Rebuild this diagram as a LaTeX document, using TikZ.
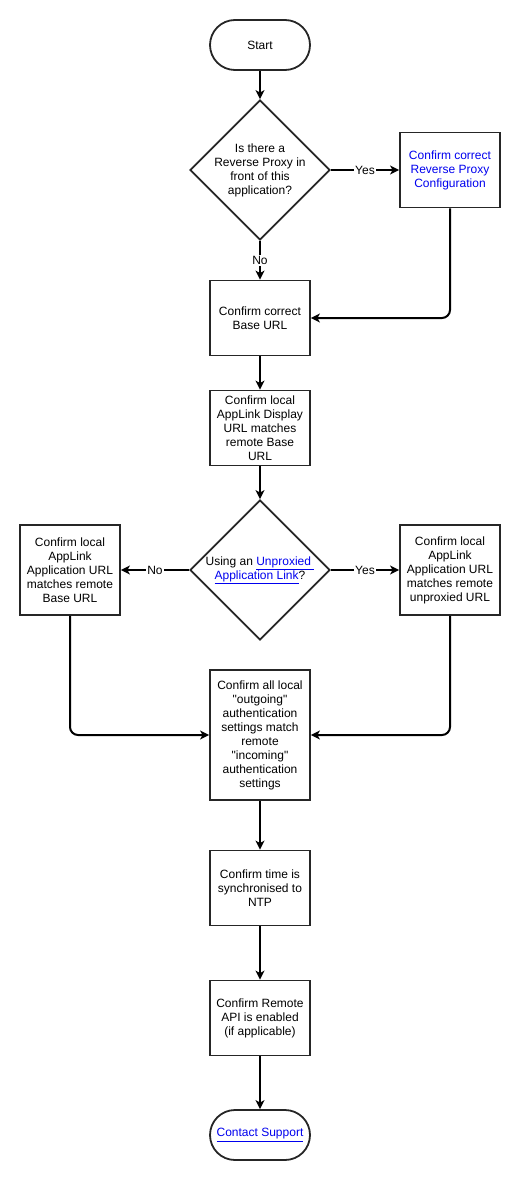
\documentclass[tikz,border=0pt]{standalone}
\usepackage{fontspec}
\setmainfont{Liberation Sans}
\usetikzlibrary{arrows.meta, shapes.geometric}
\definecolor{linkblue}{RGB}{0,0,238}

\begin{document}
\begin{tikzpicture}[x=1pt, y=-1pt]
\tikzstyle{vertex} = [rectangle, draw = black!85, line width=1.8pt, minimum width=100pt, minimum height=75pt, align=center, inner sep=0pt, font=\fontsize{12}{14}\selectfont]
\tikzstyle{terminal} = [vertex, rounded corners=25pt, minimum height=50pt]
\tikzstyle{decision} = [diamond, draw = black!85, line width=1.8pt, minimum width=140pt, minimum height=140pt, inner sep=0pt]
\tikzstyle{edge} = [-{Stealth[length=9pt, width=9pt, inset=2.5pt]}, line width=2pt]
\tikzstyle{mergeedge} = [edge, rounded corners=8pt]
\tikzstyle{answer} = [fill=white, inner sep=1.5pt, font=\fontsize{12}{14}\selectfont]
\useasboundingbox (0,0) rectangle (520,1180);
% -----------------------------------
% Proxy check
\node[terminal] (start) at (260, 45) {Start};
\node[decision, label={[align=center, font=\fontsize{12}{14}\selectfont]center:Is there a\\Reverse Proxy in\\front of this\\application?}] (proxyq) at (260, 170) {};
\node[vertex, text=linkblue] (proxybox) at (450, 170) {Confirm correct\\Reverse Proxy\\Configuration};
\node[vertex] (baseurl) at (260, 318) {Confirm correct\\Base URL};
\node[vertex] (display) at (260, 428) {Confirm local\\AppLink Display\\URL matches\\remote Base\\URL};

\draw[edge] (start)--(proxyq);
\draw[edge] (proxyq)-- node[answer] {Yes} (proxybox);
\draw[edge] (proxyq)-- node[answer] {No} (baseurl);
\draw[mergeedge] (proxybox) |- (baseurl);
\draw[edge] (baseurl)--(display);

% -----------------------------------
% Unproxied link check
\node[decision, label={[align=center, font=\fontsize{12}{14}\selectfont]center:Using an \textcolor{linkblue}{\underline{Unproxied\ }}\\\textcolor{linkblue}{\underline{Application Link}}?}] (linkq) at (260, 570) {};
\node[vertex, minimum height=90pt] (localbase) at (70, 570) {Confirm local\\AppLink\\Application URL\\matches remote\\Base URL};
\node[vertex, minimum height=90pt] (localunprox) at (450, 570) {Confirm local\\AppLink\\Application URL\\matches remote\\unproxied URL};

\draw[edge] (display)--(linkq);
\draw[edge] (linkq)-- node[answer] {No} (localbase);
\draw[edge] (linkq)-- node[answer] {Yes} (localunprox);

% -----------------------------------
% Remaining checks
\node[vertex, minimum height=130pt] (auth) at (260, 735) {Confirm all local\\\textquotedbl outgoing\textquotedbl\\authentication\\settings match\\remote\\\textquotedbl incoming\textquotedbl\\authentication\\settings};
\node[vertex] (ntp) at (260, 888) {Confirm time is\\synchronised to\\NTP};
\node[vertex] (remoteapi) at (260, 1018) {Confirm Remote\\API is enabled\\(if applicable)};
\node[terminal, text=linkblue] (support) at (260, 1135) {\underline{Contact Support}};

\draw[mergeedge] (localbase) |- (auth);
\draw[mergeedge] (localunprox) |- (auth);
\draw[edge] (auth)--(ntp);
\draw[edge] (ntp)--(remoteapi);
\draw[edge] (remoteapi)--(support);
% -----------------------------------
\end{tikzpicture}
\end{document}
